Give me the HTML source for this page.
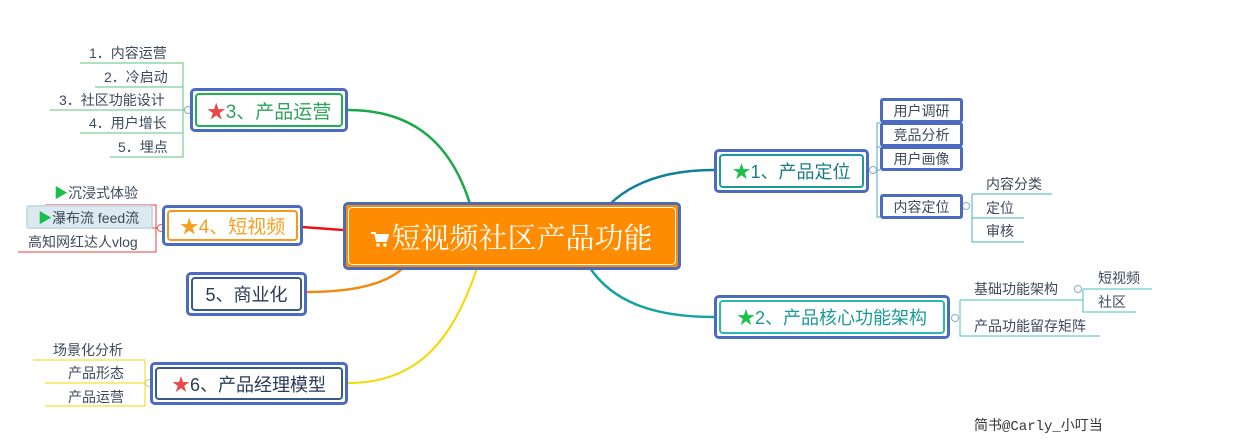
<!DOCTYPE html>
<html><head><meta charset="utf-8"><style>
body{margin:0;width:1240px;height:447px;background:#fff;position:relative;overflow:hidden;font-family:"Liberation Sans","Noto Sans CJK SC",sans-serif;}
.n{position:absolute;box-sizing:border-box;border:3px solid #4a6bbf;border-radius:5px;background:#fff;}
.n .i{position:absolute;left:2px;top:2px;right:2px;bottom:2px;border:2px solid;border-radius:4px;display:flex;align-items:center;justify-content:center;font-size:18px;white-space:nowrap;font-family:"Liberation Sans","Noto Sans CJK SC",sans-serif;}
.t{position:absolute;font-size:14px;color:#3d4a5c;white-space:nowrap;}
.lb{position:absolute;box-sizing:border-box;border:3px solid #4a6bbf;border-radius:3px;background:#fff;font-size:14px;color:#3d4a5c;display:flex;align-items:center;justify-content:center;}
</style></head><body>
<svg width="1240" height="447" style="position:absolute;left:0;top:0">
<g fill="none">
<path d="M470 204 C450 140,410 110,348 110" stroke="#1aa84a" stroke-width="2.5"/>
<path d="M610 204 C635 180,670 170,714 170" stroke="#137e9a" stroke-width="2.5"/>
<path d="M590 268 C615 305,660 317,714 317" stroke="#16a3a0" stroke-width="2.5"/>
<path d="M343 230 L302 227" stroke="#ee1111" stroke-width="2.5"/>
<path d="M403 268 C385 285,350 292,307 292" stroke="#f08a10" stroke-width="2.5"/>
<path d="M477 268 C450 350,410 383,348 383" stroke="#f5d800" stroke-width="2"/>
<g stroke="#5cc57c" stroke-width="1">
<path d="M80 63 H183 V157 H110 M95 87 H183 M50 110 H190 M80 133 H183"/>
</g>
<circle cx="188" cy="110" r="3.5" stroke="#8ab" fill="#fff"/>
<g stroke="#f03a3a" stroke-width="1"><path d="M45 205 H156 V252 H18 M28 228 H162"/></g>
<circle cx="161" cy="228" r="3.5" stroke="#d66" fill="#fff"/>
<g stroke="#f5d800" stroke-width="1"><path d="M33 360 H145 V406 H45 M45 383 H150"/></g>
<circle cx="149" cy="383" r="3.5" stroke="#cc9" fill="#fff"/>
<g stroke="#4ab0b8" stroke-width="1"><path d="M877 123 V217 H880 M877 123 H880 M877 147 H880 M877 170 H880"/>
<path d="M972 194 H1052 M972 194 V242 H1024 M972 218 H1024"/></g>
<circle cx="873" cy="170" r="3.5" stroke="#8ab" fill="#fff"/>
<circle cx="966" cy="206" r="3.5" stroke="#8ab" fill="#fff"/>
<g stroke="#4ac0c0" stroke-width="1"><path d="M960 300 H1083 M960 300 V336 H1100 M1083 289 H1152 M1083 289 V312 H1136"/></g>
<circle cx="955" cy="318" r="3.5" stroke="#8ab" fill="#fff"/>
<circle cx="1078" cy="289" r="3.5" stroke="#8ab" fill="#fff"/>
</g></svg>

<div class="n" style="left:343px;top:202px;width:338px;height:68px;background:#ff8c00;"><div class="i" style="border-color:#fff;border-width:1px;color:#fff;font-size:29px;font-family:'Liberation Serif','Noto Serif CJK SC',serif;"><svg width="18" height="16" viewBox="0 0 18 16" style="margin-right:2px;margin-top:6px"><path d="M0 2 H4 L6 10 H15 L17 4 H5" fill="none" stroke="#fff" stroke-width="2"/><rect x="5" y="4" width="11" height="6" fill="#fff"/><circle cx="7" cy="14" r="1.8" fill="#fff"/><circle cx="14" cy="14" r="1.8" fill="#fff"/></svg>短视频社区产品功能</div></div>

<div class="n" style="left:190px;top:88px;width:158px;height:44px;"><div class="i" style="border-color:#1fb04f;color:#2ca45a;font-size:19px"><span style="color:#e84a4a">★</span>3、产品运营</div></div>
<div class="n" style="left:162px;top:205px;width:141px;height:41px;"><div class="i" style="border-color:#f59a1a;color:#f5a020;font-size:19px"><span style="color:#f5a020">★</span>4、短视频</div></div>
<div class="n" style="left:186px;top:272px;width:121px;height:44px;"><div class="i" style="border-color:#3a5a8a;color:#2a3a5a;">5、商业化</div></div>
<div class="n" style="left:150px;top:362px;width:198px;height:43px;"><div class="i" style="border-color:#3a5a8a;color:#2a3a5a;"><span style="color:#e84a4a">★</span>6、产品经理模型</div></div>
<div class="n" style="left:714px;top:149px;width:155px;height:44px;"><div class="i" style="border-color:#1a9a9a;color:#1a7a8a;"><span style="color:#1ac04a">★</span>1、产品定位</div></div>
<div class="n" style="left:714px;top:295px;width:236px;height:44px;"><div class="i" style="border-color:#2ab8b0;color:#1a9a98;"><span style="color:#1ac04a">★</span>2、产品核心功能架构</div></div>

<div class="t" style="left:89px;top:43px">1．内容运营</div>
<div class="t" style="left:104px;top:67px">2．冷启动</div>
<div class="t" style="left:59px;top:90px">3．社区功能设计</div>
<div class="t" style="left:89px;top:113px">4．用户增长</div>
<div class="t" style="left:118px;top:137px">5．埋点</div>

<div class="t" style="left:54px;top:183px"><span style="color:#1ac04a">▶</span>沉浸式体验</div>
<div style="position:absolute;left:26px;top:205px;width:127px;height:24px;background:#dce9f0;border:2px solid #c8dbe6;box-sizing:border-box;border-radius:3px"></div>
<div class="t" style="left:38px;top:208px"><span style="color:#1ac04a">▶</span>瀑布流 feed流</div>
<div class="t" style="left:28px;top:232px">高知网红达人vlog</div>

<div class="t" style="left:53px;top:340px">场景化分析</div>
<div class="t" style="left:68px;top:363px">产品形态</div>
<div class="t" style="left:68px;top:387px">产品运营</div>

<div class="lb" style="left:880px;top:98px;width:83px;height:25px">用户调研</div>
<div class="lb" style="left:880px;top:122px;width:83px;height:25px">竞品分析</div>
<div class="lb" style="left:880px;top:146px;width:83px;height:25px">用户画像</div>
<div class="lb" style="left:880px;top:194px;width:83px;height:25px">内容定位</div>
<div class="t" style="left:986px;top:174px">内容分类</div>
<div class="t" style="left:986px;top:198px">定位</div>
<div class="t" style="left:986px;top:221px">审核</div>
<div class="t" style="left:974px;top:279px">基础功能架构</div>
<div class="t" style="left:974px;top:316px">产品功能留存矩阵</div>
<div class="t" style="left:1098px;top:268px">短视频</div>
<div class="t" style="left:1098px;top:292px">社区</div>

<div class="t" style="left:974px;top:415px;font-size:14px;color:#333;font-family:'Liberation Mono','Noto Sans CJK SC',monospace">简书@Carly_小叮当</div>
</body></html>
